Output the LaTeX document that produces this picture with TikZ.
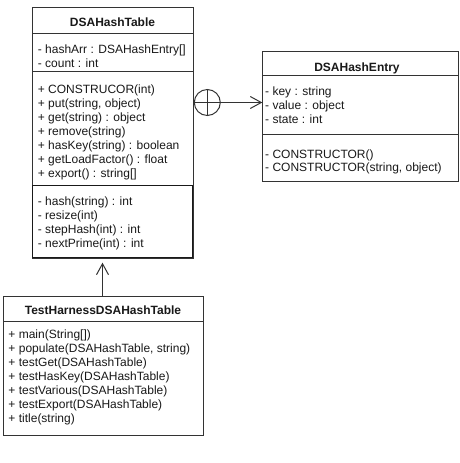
\documentclass[tikz,border=0pt]{standalone}
\usepackage{fontspec}
\setmainfont{Liberation Sans}
\usetikzlibrary{arrows.meta}
\begin{document}
\begin{tikzpicture}[x=1pt,y=-1pt,
  umlbox/.style={draw=black!80, line width=1pt, fill=white, inner sep=0pt, anchor=north west},
  divider/.style={draw=black!80, line width=1pt},
  title/.style={font=\fontsize{12}{14}\selectfont\bfseries, anchor=base, inner sep=0pt, text=black!90},
  txt/.style={font=\fontsize{12}{14}\selectfont, anchor=base west, inner sep=0pt, text=black!90},
  conn/.style={draw=black!80, line width=1pt},
  openhead/.style={-{Straight Barb[length=11pt,width=12pt,line width=1pt]}}
]
\fill[white] (0,0) rectangle (452,463);

% ---------- DSAHashTable ----------
\node[umlbox, minimum width=160.4pt, minimum height=250.4pt] (ht) at (32.3,7.3) {};
\draw[divider] (32.3,33.3) -- (192.7,33.3);
\draw[divider] (32.3,71.3) -- (192.7,71.3);
\draw[divider, line width=1.4pt, draw=black!90] (32.3,185.7) rectangle (192.7,257.7);
\node[title] (ht-title) at (112.5,27) {DSAHashTable};
\foreach \t [count=\i from 0] in {{- hashArr : DSAHashEntry[]},{- count : int}}
  \node[txt] (ht-a\i) at (37.7,53.5+14*\i) {\t};
\foreach \t [count=\i from 0] in {{+ CONSTRUCOR(int)},{+ put(string, object)},{+ get(string) : object},{+ remove(string)},{+ hasKey(string) : boolean},{+ getLoadFactor() : float},{+ export() : string[]}}
  \node[txt] (ht-m\i) at (37.7,93.5+14*\i) {\t};
\foreach \t [count=\i from 0] in {{- hash(string) : int},{- resize(int)},{- stepHash(int) : int},{- nextPrime(int) : int}}
  \node[txt] (ht-p\i) at (37.7,205.2+14*\i) {\t};

% ---------- DSAHashEntry ----------
\node[umlbox, minimum width=196pt, minimum height=129.7pt] (he) at (262.3,51) {};
\draw[divider] (262.3,75.7) -- (458.3,75.7);
\draw[divider] (262.3,134.3) -- (458.3,134.3);
\node[title] (he-title) at (357,71.5) {DSAHashEntry};
\foreach \t [count=\i from 0] in {{- key : string},{- value : object},{- state : int}}
  \node[txt] (he-a\i) at (265,95.5+13.8*\i) {\t};
\foreach \t [count=\i from 0] in {{- CONSTRUCTOR()},{- CONSTRUCTOR(string, object)}}
  \node[txt] (he-m\i) at (265,158+13.8*\i) {\t};

% ---------- TestHarnessDSAHashTable ----------
\node[umlbox, minimum width=199.4pt, minimum height=139.3pt] (th) at (3.3,295.7) {};
\draw[divider] (3.3,321) -- (202.7,321);
\node[title] (th-title) at (103,314.2) {TestHarnessDSAHashTable};
\foreach \t [count=\i from 0] in {{+ main(String[])},{+ populate(DSAHashTable, string)},{+ testGet(DSAHashTable)},{+ testHasKey(DSAHashTable)},{+ testVarious(DSAHashTable)},{+ testExport(DSAHashTable)},{+ title(string)}}
  \node[txt] (th-m\i) at (8.3,338.5+14*\i) {\t};

% ---------- connectors ----------
\node[draw=black!80, line width=1pt, circle, minimum size=26pt, inner sep=0pt] (nest) at (207.3,102.5) {};
\draw[conn] (nest.north) -- (nest.south);
\draw[conn] (nest.west) -- (nest.east);
\draw[conn, openhead] (nest.east) -- (nest.east -| he.west);
\draw[conn, openhead, shorten >=4pt] (th.north -| 102.5,0) -- (102.5,0 |- ht.south);

\useasboundingbox (0,0) rectangle (452,463);
\end{tikzpicture}
\end{document}
